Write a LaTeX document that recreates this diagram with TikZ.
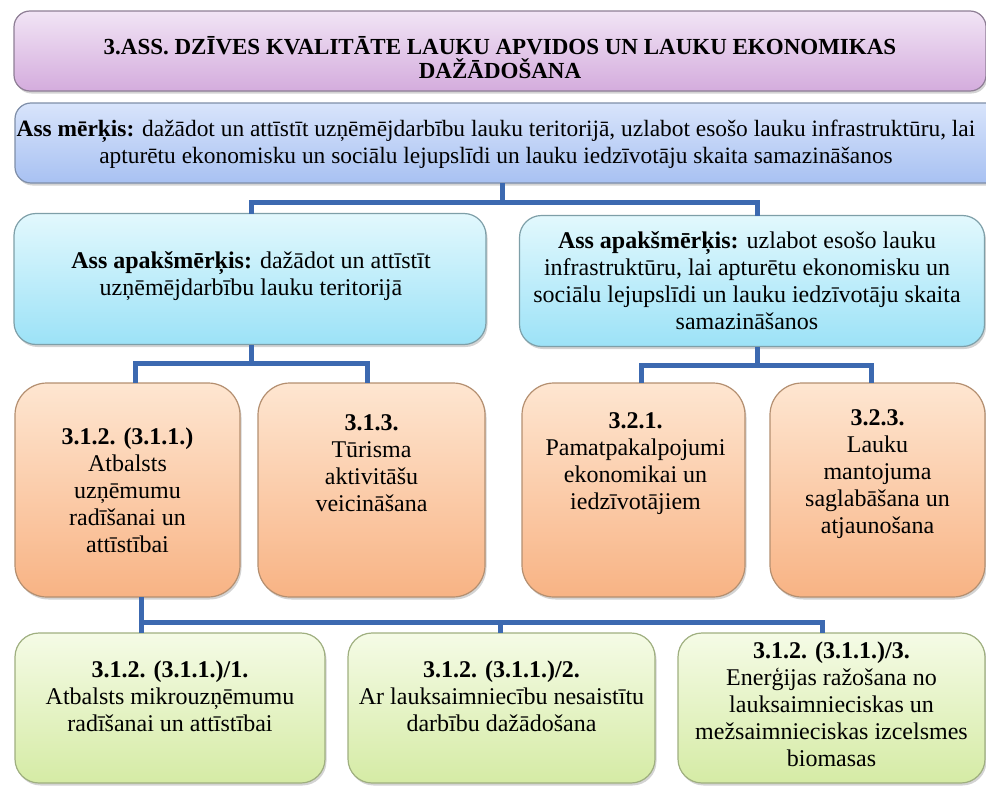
\documentclass[tikz,border=0pt]{standalone}
\usepackage{fontspec}
\setmainfont{Liberation Serif}
\usetikzlibrary{shadows}
\definecolor{purT}{HTML}{F1E4F5}
\definecolor{purB}{HTML}{D4ACDD}
\definecolor{purD}{HTML}{8E7E95}
\definecolor{golT}{HTML}{D8E4FB}
\definecolor{golB}{HTML}{A8C1F2}
\definecolor{golD}{HTML}{7E8EA8}
\definecolor{subT}{HTML}{E2F8FD}
\definecolor{subB}{HTML}{9CE2F7}
\definecolor{subD}{HTML}{7E9FA8}
\definecolor{orT}{HTML}{FEE6D1}
\definecolor{orB}{HTML}{F8B384}
\definecolor{orD}{HTML}{B48F70}
\definecolor{grT}{HTML}{F5FBE6}
\definecolor{grB}{HTML}{D5EBA5}
\definecolor{grD}{HTML}{9FAF80}
\definecolor{connC}{HTML}{3C69B0}
\begin{document}
\begin{tikzpicture}[x=1pt,y=-1pt,
  boxbase/.style={inner sep=0pt, outer sep=0pt, line width=1.2pt,
    drop shadow={shadow xshift=1.5pt, shadow yshift=-2.5pt, opacity=0.35}},
  purbox/.style={boxbase, draw=purD, top color=purT, bottom color=purB, rounded corners=16pt},
  golbox/.style={boxbase, draw=golD, top color=golT, bottom color=golB, rounded corners=16pt},
  subbox/.style={boxbase, draw=subD, top color=subT, bottom color=subB, rounded corners=22pt},
  orbox/.style={boxbase, draw=orD, top color=orT, bottom color=orB, rounded corners=32pt},
  grbox/.style={boxbase, draw=grD, top color=grT, bottom color=grB, rounded corners=24pt},
  txt/.style={align=center, inner sep=0pt, font=\fontsize{24}{27}\selectfont},
  gtxt/.style={align=center, inner sep=0pt, font=\fontsize{23.4}{27}\selectfont},
  ttl/.style={align=center, inner sep=0pt, font=\fontsize{23}{24}\selectfont\bfseries},
  conn/.style={draw=connC, line width=5pt}
]
\useasboundingbox (0,0) rectangle (986,787);

% boxes
\node[purbox, minimum width=972pt, minimum height=80pt] (title) at (500,51) {};
\node[golbox, minimum width=990pt, minimum height=80pt] (goal) at (510,143) {};
\node[subbox, minimum width=472pt, minimum height=131pt] (subL) at (250,279) {};
\node[subbox, minimum width=465pt, minimum height=131pt] (subR) at (752,281) {};
\node[orbox, minimum width=225pt, minimum height=214pt] (o1) at (127.5,490) {};
\node[orbox, minimum width=227pt, minimum height=214pt] (o2) at (371.5,490) {};
\node[orbox, minimum width=223pt, minimum height=214pt] (o3) at (633.5,490) {};
\node[orbox, minimum width=215pt, minimum height=214pt] (o4) at (877.5,490) {};
\node[grbox, minimum width=310pt, minimum height=150pt] (g1) at (170,708) {};
\node[grbox, minimum width=307pt, minimum height=150pt] (g2) at (501.5,708) {};
\node[grbox, minimum width=307pt, minimum height=150pt] (g3) at (831.5,708) {};

% texts
\node[ttl] (titlet) at (500,58) {3.ASS. DZĪVES KVALITĀTE LAUKU APVIDOS UN LAUKU EKONOMIKAS\\DAŽĀDOŠANA};
\node[gtxt] (goalt) at (496,144) {\textbf{Ass mērķis:} dažādot un attīstīt uzņēmējdarbību lauku teritorijā, uzlabot esošo lauku infrastruktūru, lai\\apturētu ekonomisku un sociālu lejupslīdi un lauku iedzīvotāju skaita samazināšanos};
\node[txt] (subLt) at (251,276) {\textbf{Ass apakšmērķis:} dažādot un attīstīt\\uzņēmējdarbību lauku teritorijā};
\node[txt] (subRt) at (747,281) {\textbf{Ass apakšmērķis:} uzlabot esošo lauku\\infrastruktūru, lai apturētu ekonomisku un\\sociālu lejupslīdi un lauku iedzīvotāju skaita\\samazināšanos};
\node[txt] (o1t) at (127.5,490) {\textbf{3.1.2. (3.1.1.)}\\Atbalsts\\uzņēmumu\\radīšanai un\\attīstībai};
\node[txt] (o2t) at (371.5,463) {\textbf{3.1.3.}\\Tūrisma\\aktivitāšu\\veicināšana};
\node[txt] (o3t) at (635.5,464) {\textbf{3.2.1.}\\Pamatpakalpojumi\\ekonomikai un\\iedzīvotājiem};
\node[txt] (o4t) at (877.5,474) {\textbf{3.2.3.}\\Lauku\\mantojuma\\saglabāšana un\\atjaunošana};
\node[txt] (g1t) at (170,696) {\textbf{3.1.2. (3.1.1.)/1.}\\Atbalsts mikrouzņēmumu\\radīšanai un attīstībai};
\node[txt] (g2t) at (501.5,696) {\textbf{3.1.2. (3.1.1.)/2.}\\Ar lauksaimniecību nesaistītu\\darbību dažādošana};
\node[txt] (g3t) at (831.5,704) {\textbf{3.1.2. (3.1.1.)/3.}\\Enerģijas ražošana no\\lauksaimnieciskas un\\mežsaimnieciskas izcelsmes\\biomasas};

% connectors
\coordinate (j1) at (502,202);
\coordinate (j1l) at (251,202);
\coordinate (j1r) at (757,202);
\draw[conn] (j1 |- goal.south) -- (j1);
\draw[conn] (j1l |- subL.north) -- (j1l) -- (j1r) -- (j1r |- subR.north);

\coordinate (j2) at (251,363);
\coordinate (j2l) at (135,363);
\coordinate (j2r) at (367,363);
\draw[conn] (j2 |- subL.south) -- (j2);
\draw[conn] (j2l |- o1.north) -- (j2l) -- (j2r) -- (j2r |- o2.north);

\coordinate (j3) at (757,365);
\coordinate (j3l) at (641,365);
\coordinate (j3r) at (871,365);
\draw[conn] (j3 |- subR.south) -- (j3);
\draw[conn] (j3l |- o3.north) -- (j3l) -- (j3r) -- (j3r |- o4.north);

\coordinate (j4l) at (141,622);
\coordinate (j4m) at (500,622);
\coordinate (j4r) at (822,622);
\draw[conn] (j4l |- o1.south) -- (j4l |- g1.north);
\draw[conn] (j4l) -- (j4r) -- (j4r |- g3.north);
\draw[conn] (j4m) -- (j4m |- g2.north);
\end{tikzpicture}
\end{document}
